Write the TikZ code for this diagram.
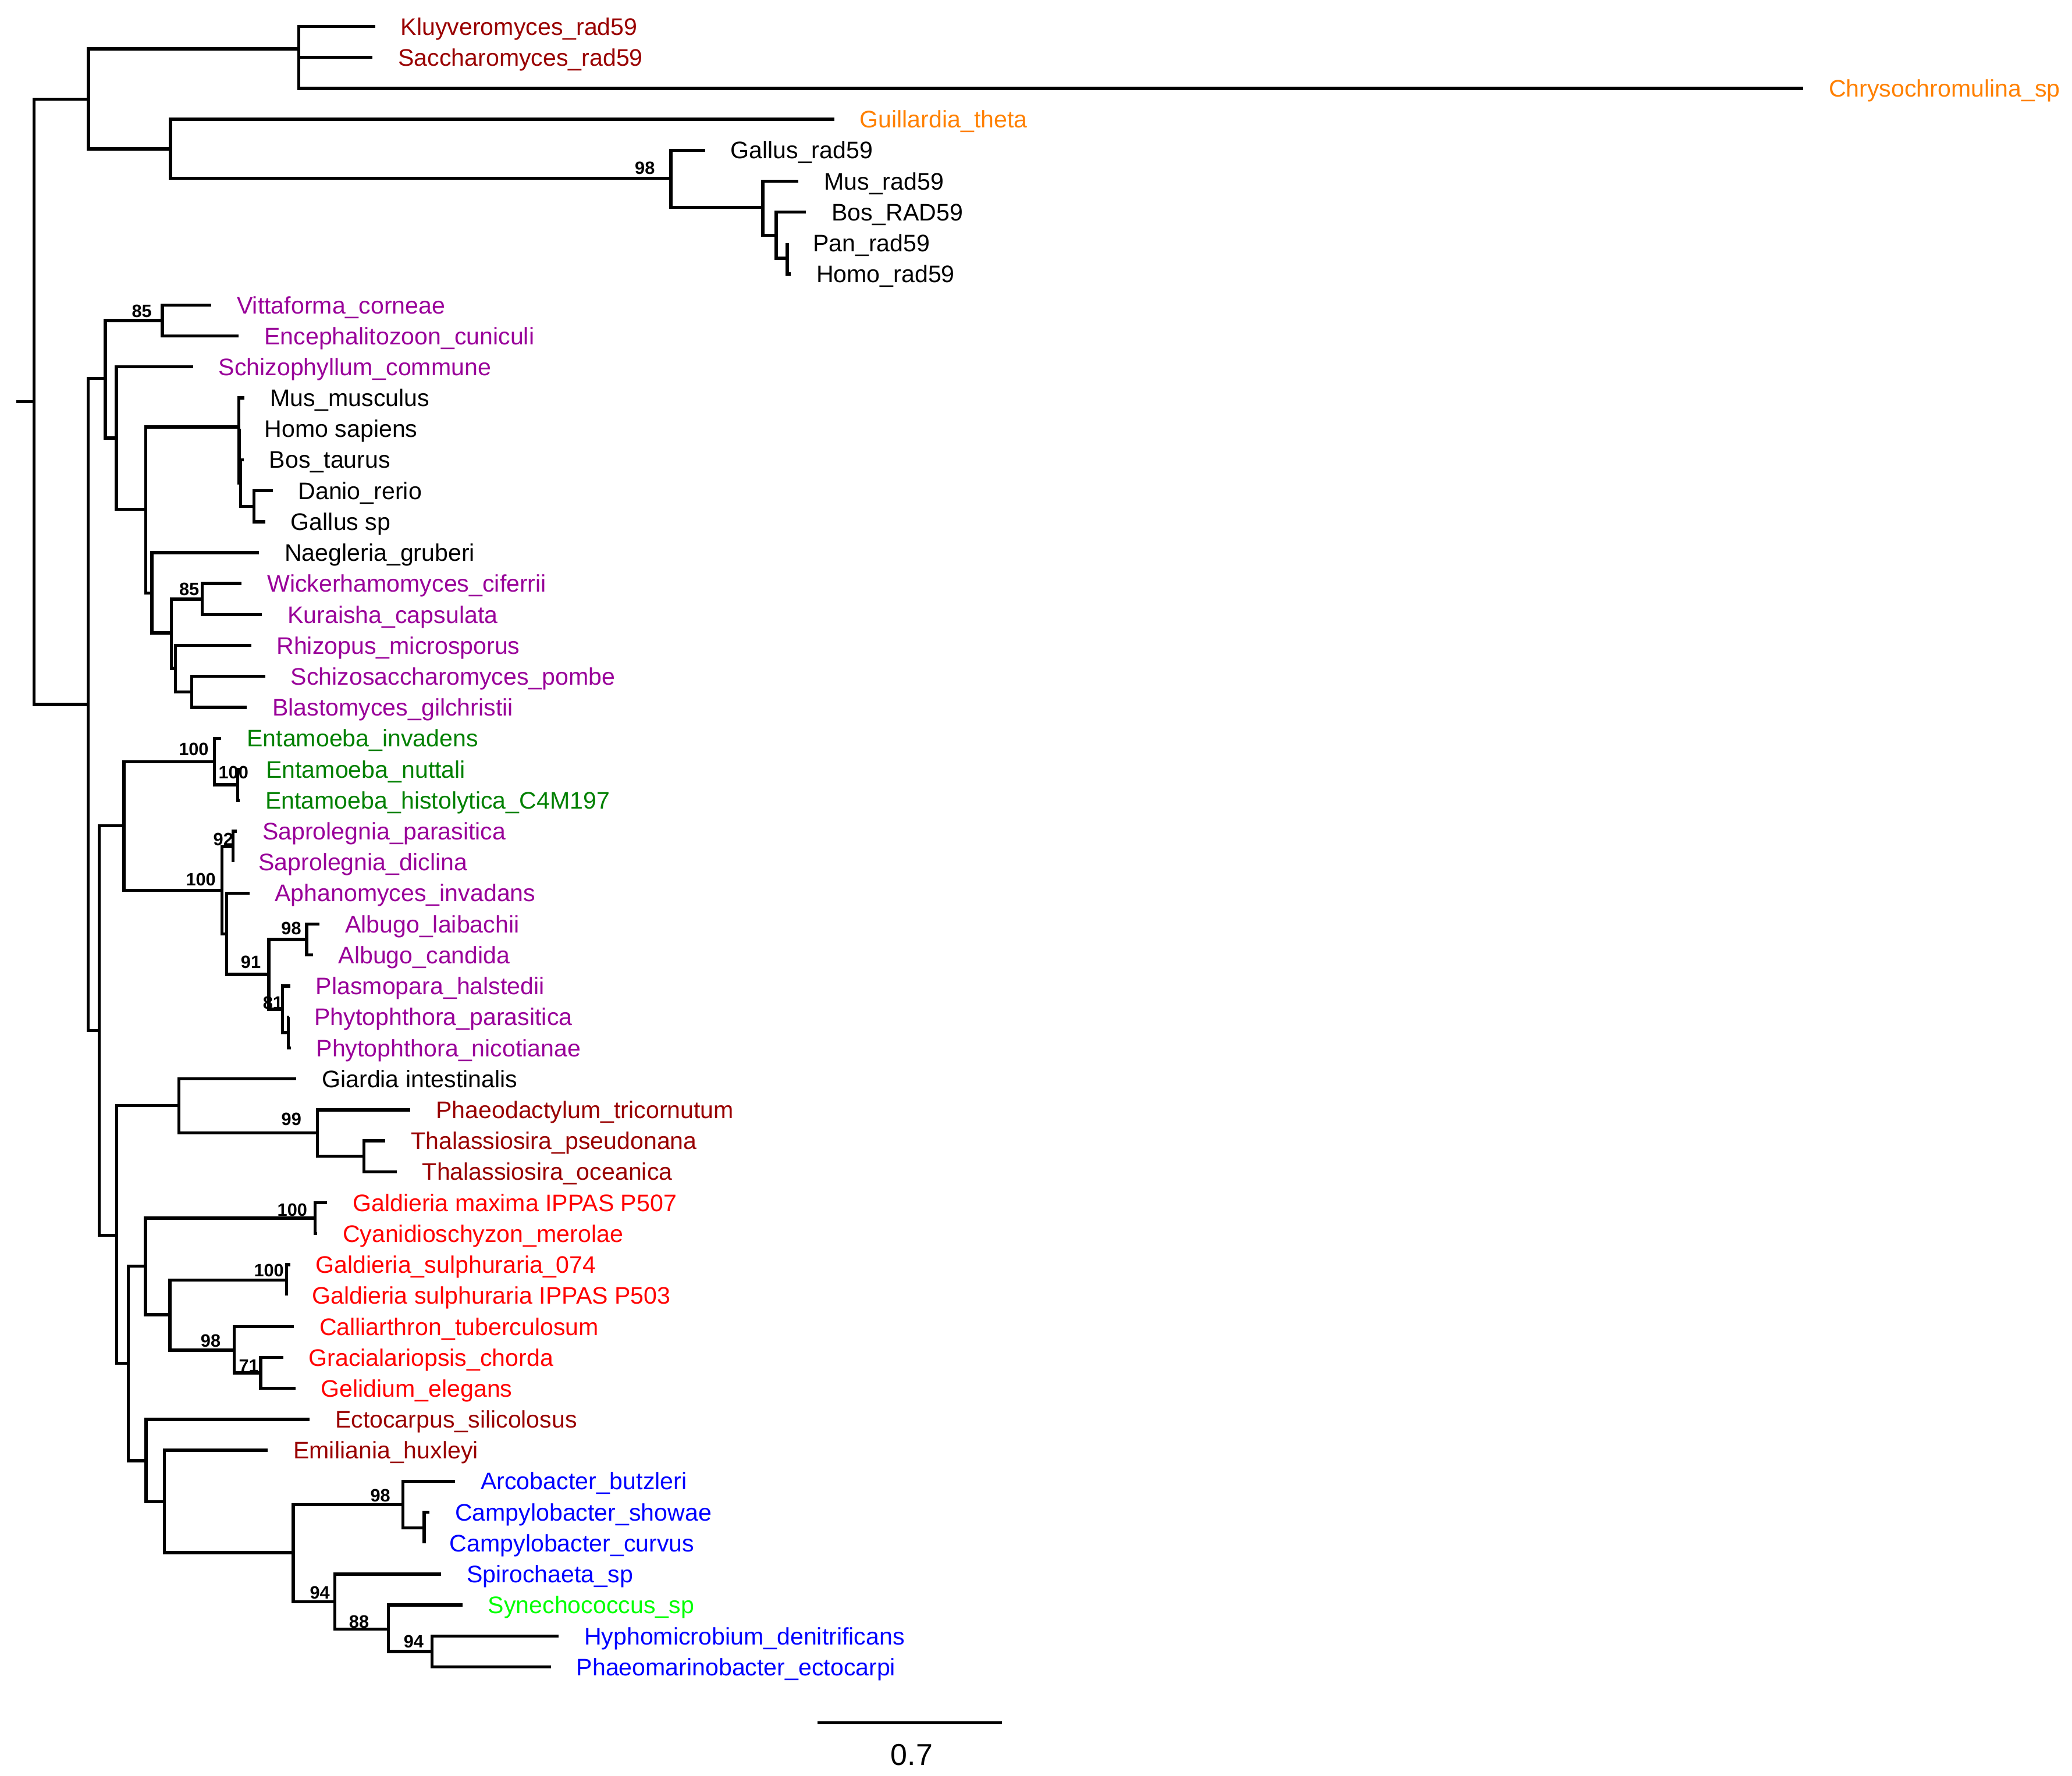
\documentclass[tikz,border=0pt]{standalone}
\usepackage{fontspec}
\setmainfont{Liberation Sans}
\usepackage{tikz}
\usetikzlibrary{calc}
\usetikzlibrary{positioning}
\definecolor{dred}{RGB}{153,0,0}
\definecolor{purp}{RGB}{153,0,153}
\definecolor{dgreen}{RGB}{0,128,0}
\definecolor{lgreen}{RGB}{0,255,0}
\definecolor{orng}{RGB}{255,128,0}
\definecolor{pblue}{RGB}{0,0,255}
\definecolor{pred}{RGB}{255,0,0}

\begin{document}
\begin{tikzpicture}[x=0.2mm, y=-0.2mm, node distance=3.8mm,
br/.style={line width=1.35pt},
tip/.style={inner sep=0pt, text height=7.35pt, text depth=0pt, font=\fontsize{10.3}{12}\selectfont, text=#1},
tip/.default=black,
boot/.style={inner sep=0pt, text height=5.5pt, text depth=0pt, font=\bfseries\fontsize{7.7}{9}\selectfont}]

\useasboundingbox (0,0) rectangle (1568,1344);

% root and first clade
\coordinate (stub) at (12.4,304);
\coordinate (root) at (25.8,304);
\coordinate (n1) at (67,75);
\coordinate (n2) at (226,37);
\coordinate (n3) at (129,112.7);
\coordinate (n4) at (507.7,135);
\coordinate (n5) at (577.3,157);
\coordinate (n6) at (587.4,178);
\coordinate (n7) at (595.8,195.5);

\coordinate (kluy) at (284,20);
\coordinate (sacc) at (282,43.4);
\coordinate (chry) at (1364.6,66.9);
\coordinate (guil) at (631.3,90.3);
\coordinate (galr) at (533.5,113.7);
\coordinate (musr) at (604.3,137.2);
\coordinate (bosr) at (609.9,160.6);
\coordinate (panr) at (595.8,184);
\coordinate (homr) at (598.5,207.4);

\draw [br] (stub) -- (root);
\draw [br] (root) |- (n1);
\draw [br] (n1) |- (n2);
\draw [br] (n1) |- (n3);
\draw [br] (n2) |- (kluy);
\draw [br] (n2) |- (sacc);
\draw [br] (n2) |- (chry);
\draw [br] (n3) |- (guil);
\draw [br] (n3) |- (n4);
\draw [br] (n4) |- (galr);
\draw [br] (n4) |- (n5);
\draw [br] (n5) |- (musr);
\draw [br] (n5) |- (n6);
\draw [br] (n6) |- (bosr);
\draw [br] (n6) |- (n7);
\draw [br] (n7) |- (panr);
\draw [br] (n7) |- (homr);

\node [tip=dred, right = of kluy] (kluyL) {Kluyveromyces\_rad59};
\node [tip=dred, right = of sacc] (saccL) {Saccharomyces\_rad59};
\node [tip=orng, right = of chry] (chryL) {Chrysochromulina\_sp};
\node [tip=orng, right = of guil] (guilL) {Guillardia\_theta};
\node [tip, right = of galr] (galrL) {Gallus\_rad59};
\node [tip, right = of musr] (musrL) {Mus\_rad59};
\node [tip, right = of bosr] (bosrL) {Bos\_RAD59};
\node [tip, right = of panr] (panrL) {Pan\_rad59};
\node [tip, right = of homr] (homrL) {Homo\_rad59};
\node [boot] (b4) at (488,127) {98};

% fungi, microsporidia and vertebrates
\coordinate (n8) at (66.8,533.3);
\coordinate (n9) at (79.7,286.5);
\coordinate (n10) at (122.9,242.6);
\coordinate (n11) at (88,331.6);
\coordinate (n12) at (110.3,385.5);
\coordinate (n13) at (180.7,323.2);
\coordinate (n14) at (180.9,345.1);
\coordinate (n15) at (182.2,365.6);
\coordinate (n16) at (192.1,383.2);
\coordinate (n17) at (114.9,449);
\coordinate (n18) at (129.7,479);
\coordinate (n19) at (152.9,453.5);
\coordinate (n20) at (132.8,506);
\coordinate (n21) at (145.2,523.7);

\coordinate (vitt) at (160,230.9);
\coordinate (ence) at (180.7,254.3);
\coordinate (schi) at (146.1,277.7);
\coordinate (musm) at (185,301.2);
\coordinate (homs) at (180.9,324.6);
\coordinate (bost) at (184.5,348);
\coordinate (dani) at (206.3,371.5);
\coordinate (gals) at (200.8,394.9);
\coordinate (naeg) at (196.1,418.3);
\coordinate (wick) at (182.9,441.7);
\coordinate (kura) at (198.3,465.2);
\coordinate (rhiz) at (190,488.6);
\coordinate (schp) at (200.8,512);
\coordinate (blas) at (186.9,535.5);

\draw [br] (root) |- (n8);
\draw [br] (n8) |- (n9);
\draw [br] (n9) |- (n10);
\draw [br] (n9) |- (n11);
\draw [br] (n10) |- (vitt);
\draw [br] (n10) |- (ence);
\draw [br] (n11) |- (schi);
\draw [br] (n11) |- (n12);
\draw [br] (n12) |- (n13);
\draw [br] (n12) |- (n17);
\draw [br] (n13) |- (musm);
\draw [br] (n13) |- (n14);
\draw [br] (n14) |- (homs);
\draw [br] (n14) |- (n15);
\draw [br] (n15) |- (bost);
\draw [br] (n15) |- (n16);
\draw [br] (n16) |- (dani);
\draw [br] (n16) |- (gals);
\draw [br] (n17) |- (naeg);
\draw [br] (n17) |- (n18);
\draw [br] (n18) |- (n19);
\draw [br] (n18) |- (n20);
\draw [br] (n19) |- (wick);
\draw [br] (n19) |- (kura);
\draw [br] (n20) |- (rhiz);
\draw [br] (n20) |- (n21);
\draw [br] (n21) |- (schp);
\draw [br] (n21) |- (blas);

\node [tip=purp, right = of vitt] (vittL) {Vittaforma\_corneae};
\node [tip=purp, right = of ence] (enceL) {Encephalitozoon\_cuniculi};
\node [tip=purp, right = of schi] (schiL) {Schizophyllum\_commune};
\node [tip, right = of musm] (musmL) {Mus\_musculus};
\node [tip, right = of homs] (homsL) {Homo sapiens};
\node [tip, right = of bost] (bostL) {Bos\_taurus};
\node [tip, right = of dani] (daniL) {Danio\_rerio};
\node [tip, right = of gals] (galsL) {Gallus sp};
\node [tip, right = of naeg] (naegL) {Naegleria\_gruberi};
\node [tip=purp, right = of wick] (wickL) {Wickerhamomyces\_ciferrii};
\node [tip=purp, right = of kura] (kuraL) {Kuraisha\_capsulata};
\node [tip=purp, right = of rhiz] (rhizL) {Rhizopus\_microsporus};
\node [tip=purp, right = of schp] (schpL) {Schizosaccharomyces\_pombe};
\node [tip=purp, right = of blas] (blasL) {Blastomyces\_gilchristii};
\node [boot] (b10) at (107.3,235.2) {85};
\node [boot] (b19) at (143.2,446) {85};

% amoebae and oomycetes
\coordinate (n22) at (75.2,780);
\coordinate (n23) at (93.8,625);
\coordinate (n24) at (162.2,576.5);
\coordinate (n25) at (180,594);
\coordinate (n26) at (168.1,673.8);
\coordinate (n27) at (176.3,640.9);
\coordinate (n28) at (171.6,706.9);
\coordinate (n29) at (203.5,737.5);
\coordinate (n30) at (232,711.2);
\coordinate (n31) at (213.8,764);
\coordinate (n32) at (218.2,781.5);

\coordinate (einv) at (167.5,558.9);
\coordinate (enut) at (182,582.3);
\coordinate (ehis) at (181.5,605.8);
\coordinate (spar) at (179.3,629.2);
\coordinate (sdic) at (176.3,652.6);
\coordinate (aphi) at (188.7,676);
\coordinate (alai) at (241.8,699.5);
\coordinate (acan) at (236.8,722.9);
\coordinate (plas) at (219.7,746.3);
\coordinate (ppar) at (218.5,769.8);
\coordinate (pnic) at (220,793.2);

\draw [br] (n8) |- (n22);
\draw [br] (n22) |- (n23);
\draw [br] (n23) |- (n24);
\draw [br] (n23) |- (n26);
\draw [br] (n24) |- (einv);
\draw [br] (n24) |- (n25);
\draw [br] (n25) |- (enut);
\draw [br] (n25) |- (ehis);
\draw [br] (n26) |- (n27);
\draw [br] (n26) |- (n28);
\draw [br] (n27) |- (spar);
\draw [br] (n27) |- (sdic);
\draw [br] (n28) |- (aphi);
\draw [br] (n28) |- (n29);
\draw [br] (n29) |- (n30);
\draw [br] (n29) |- (n31);
\draw [br] (n30) |- (alai);
\draw [br] (n30) |- (acan);
\draw [br] (n31) |- (plas);
\draw [br] (n31) |- (n32);
\draw [br] (n32) |- (ppar);
\draw [br] (n32) |- (pnic);

\node [tip=dgreen, right = of einv] (einvL) {Entamoeba\_invadens};
\node [tip=dgreen, right = of enut] (enutL) {Entamoeba\_nuttali};
\node [tip=dgreen, right = of ehis] (ehisL) {Entamoeba\_histolytica\_C4M197};
\node [tip=purp, right = of spar] (sparL) {Saprolegnia\_parasitica};
\node [tip=purp, right = of sdic] (sdicL) {Saprolegnia\_diclina};
\node [tip=purp, right = of aphi] (aphiL) {Aphanomyces\_invadans};
\node [tip=purp, right = of alai] (alaiL) {Albugo\_laibachii};
\node [tip=purp, right = of acan] (acanL) {Albugo\_candida};
\node [tip=purp, right = of plas] (plasL) {Plasmopara\_halstedii};
\node [tip=purp, right = of ppar] (pparL) {Phytophthora\_parasitica};
\node [tip=purp, right = of pnic] (pnicL) {Phytophthora\_nicotianae};
\node [boot] (b24) at (146.6,566.8) {100};
\node [boot] (b25) at (176.7,584.5) {100};
\node [boot] (b27) at (169,635) {92};
\node [boot] (b26) at (152,665.6) {100};
\node [boot] (b29) at (189.8,728.2) {91};
\node [boot] (b30) at (220.4,702.6) {98};
\node [boot] (b31) at (206.5,758.8) {81};

% algae and bacteria
\coordinate (n33) at (88.2,935);
\coordinate (n34) at (135.3,836.8);
\coordinate (n35) at (240.2,857.6);
\coordinate (n36) at (275.4,875.2);
\coordinate (n37) at (97.1,1032);
\coordinate (n38) at (110.1,958.4);
\coordinate (n39) at (238.4,922);
\coordinate (n40) at (128.6,995.2);
\coordinate (n41) at (216.8,968.9);
\coordinate (n42) at (177.2,1022);
\coordinate (n43) at (197.2,1039.2);
\coordinate (n44) at (110.5,1105.7);
\coordinate (n45) at (124.4,1136.8);
\coordinate (n46) at (222,1175.3);
\coordinate (n47) at (304.9,1138.8);
\coordinate (n48) at (321,1156.4);
\coordinate (n49) at (253.3,1212.3);
\coordinate (n50) at (293.9,1233);
\coordinate (n51) at (327,1250.1);

\coordinate (giar) at (224.3,816.6);
\coordinate (phae) at (310.6,840.1);
\coordinate (tpse) at (291.7,863.5);
\coordinate (toce) at (300.3,886.9);
\coordinate (gmax) at (247.6,910.3);
\coordinate (cyan) at (240,933.8);
\coordinate (gs74) at (219.5,957.2);
\coordinate (gs03) at (216.8,980.6);
\coordinate (call) at (222.4,1004.1);
\coordinate (grac) at (214.3,1027.5);
\coordinate (geli) at (223.5,1050.9);
\coordinate (ecto) at (234.3,1074.4);
\coordinate (emil) at (202.7,1097.8);
\coordinate (arco) at (344.5,1121.2);
\coordinate (csho) at (325,1144.6);
\coordinate (ccur) at (321,1168.1);
\coordinate (spir) at (333.9,1191.5);
\coordinate (syne) at (350,1214.9);
\coordinate (hyph) at (422.8,1238.4);
\coordinate (phmr) at (416.9,1261.8);

\draw [br] (n22) |- (n33);
\draw [br] (n33) |- (n34);
\draw [br] (n33) |- (n37);
\draw [br] (n34) |- (giar);
\draw [br] (n34) |- (n35);
\draw [br] (n35) |- (phae);
\draw [br] (n35) |- (n36);
\draw [br] (n36) |- (tpse);
\draw [br] (n36) |- (toce);
\draw [br] (n37) |- (n38);
\draw [br] (n37) |- (n44);
\draw [br] (n38) |- (n39);
\draw [br] (n38) |- (n40);
\draw [br] (n39) |- (gmax);
\draw [br] (n39) |- (cyan);
\draw [br] (n40) |- (n41);
\draw [br] (n40) |- (n42);
\draw [br] (n41) |- (gs74);
\draw [br] (n41) |- (gs03);
\draw [br] (n42) |- (call);
\draw [br] (n42) |- (n43);
\draw [br] (n43) |- (grac);
\draw [br] (n43) |- (geli);
\draw [br] (n44) |- (ecto);
\draw [br] (n44) |- (n45);
\draw [br] (n45) |- (emil);
\draw [br] (n45) |- (n46);
\draw [br] (n46) |- (n47);
\draw [br] (n46) |- (n49);
\draw [br] (n47) |- (arco);
\draw [br] (n47) |- (n48);
\draw [br] (n48) |- (csho);
\draw [br] (n48) |- (ccur);
\draw [br] (n49) |- (spir);
\draw [br] (n49) |- (n50);
\draw [br] (n50) |- (syne);
\draw [br] (n50) |- (n51);
\draw [br] (n51) |- (hyph);
\draw [br] (n51) |- (phmr);

\node [tip, right = of giar] (giarL) {Giardia intestinalis};
\node [tip=dred, right = of phae] (phaeL) {Phaeodactylum\_tricornutum};
\node [tip=dred, right = of tpse] (tpseL) {Thalassiosira\_pseudonana};
\node [tip=dred, right = of toce] (toceL) {Thalassiosira\_oceanica};
\node [tip=pred, right = of gmax] (gmaxL) {Galdieria maxima IPPAS P507};
\node [tip=pred, right = of cyan] (cyanL) {Cyanidioschyzon\_merolae};
\node [tip=pred, right = of gs74] (gs74L) {Galdieria\_sulphuraria\_074};
\node [tip=pred, right = of gs03] (gs03L) {Galdieria sulphuraria IPPAS P503};
\node [tip=pred, right = of call] (callL) {Calliarthron\_tuberculosum};
\node [tip=pred, right = of grac] (gracL) {Gracialariopsis\_chorda};
\node [tip=pred, right = of geli] (geliL) {Gelidium\_elegans};
\node [tip=dred, right = of ecto] (ectoL) {Ectocarpus\_silicolosus};
\node [tip=dred, right = of emil] (emilL) {Emiliania\_huxleyi};
\node [tip=pblue, right = of arco] (arcoL) {Arcobacter\_butzleri};
\node [tip=pblue, right = of csho] (cshoL) {Campylobacter\_showae};
\node [tip=pblue, right = of ccur] (ccurL) {Campylobacter\_curvus};
\node [tip=pblue, right = of spir] (spirL) {Spirochaeta\_sp};
\node [tip=lgreen, right = of syne] (syneL) {Synechococcus\_sp};
\node [tip=pblue, right = of hyph] (hyphL) {Hyphomicrobium\_denitrificans};
\node [tip=pblue, right = of phmr] (phmrL) {Phaeomarinobacter\_ectocarpi};
\node [boot] (b35) at (220.5,847) {99};
\node [boot] (b39) at (221.2,915.8) {100};
\node [boot] (b41) at (203.5,961.5) {100};
\node [boot] (b42) at (159.4,1014.8) {98};
\node [boot] (b43) at (188.3,1033.8) {71};
\node [boot] (b47) at (287.8,1131.8) {98};
\node [boot] (b49) at (242,1205.6) {94};
\node [boot] (b50) at (271.7,1227.6) {88};
\node [boot] (b51) at (313,1242.2) {94};

% scale bar
\coordinate (sb1) at (618.6,1304);
\coordinate (sb2) at (758.3,1304);
\draw [br] (sb1) -- (sb2);
\node [inner sep=0pt, text height=9.3pt, text depth=0pt, font=\fontsize{13}{15}\selectfont] (sbL) at (690,1328) {0.7};
\end{tikzpicture}
\end{document}
